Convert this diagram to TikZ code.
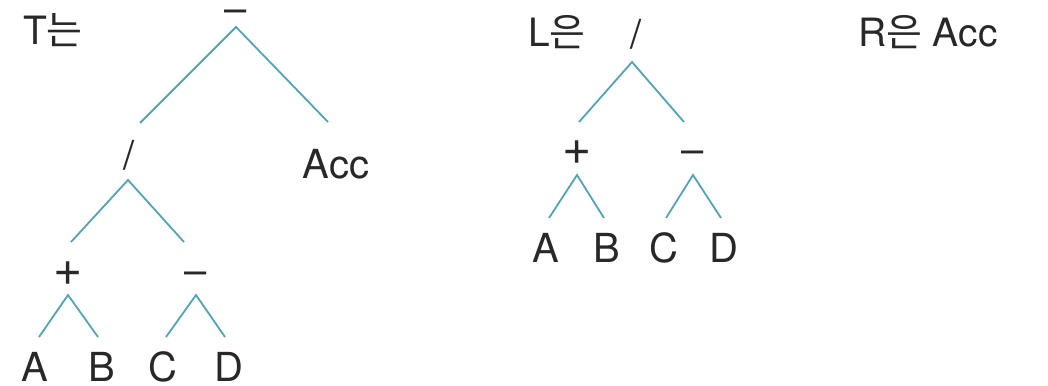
\documentclass[tikz,border=0pt]{standalone}
\usepackage{fontspec}
\setmainfont{TeX Gyre Heros}
\newfontfamily\krfont{Noto Sans CJK KR}
\definecolor{edgecol}{RGB}{84,163,181}
\definecolor{txtcol}{RGB}{40,40,40}
\tikzset{
  lbl/.style={anchor=base,inner sep=0pt,outer sep=0pt,text=txtcol,font=\fontsize{40}{40}\selectfont},
  plus/.style={lbl,font=\fontsize{50}{50}\selectfont},
  hdr/.style={anchor=base west,inner sep=0pt,outer sep=0pt,text=txtcol,font=\fontsize{39}{39}\selectfont},
  edge/.style={draw=edgecol,line width=1.8pt}
}
\begin{document}
\begin{tikzpicture}[x=1pt,y=-1pt]
\useasboundingbox[fill=white] (0,0) rectangle (1048,385);
% ---------- left tree ----------
\node[hdr] (Tlabel) at (23,45) {T\krfont 는};
\node[lbl] (Troot) at (236,23) {--};
\node[lbl] (Tdiv) at (129,169) {/};
\node[lbl] (Tacc) at (336,178) {Acc};
\node[plus] (Tplus) at (68,285) {+};
\node[lbl] (Tminus) at (196,284) {--};
\node[lbl] (TA) at (35,381) {A};
\node[lbl] (TB) at (102,381) {B};
\node[lbl] (TC) at (163,381) {C};
\node[lbl] (TD) at (229,381) {D};
\coordinate (Tr) at (236,27);
\coordinate (Trl) at (140,123);
\coordinate (Trr) at (328,122);
\coordinate (Td) at (128,180);
\coordinate (Tdl) at (71,242);
\coordinate (Tdr) at (184,242);
\coordinate (Tp) at (68,295);
\coordinate (Tpl) at (39,337);
\coordinate (Tpr) at (98,337);
\coordinate (Tm) at (196,295);
\coordinate (Tml) at (166,337);
\coordinate (Tmr) at (225,337);
\draw[edge] (Trl) -- (Tr) -- (Trr);
\draw[edge] (Tdl) -- (Td) -- (Tdr);
\draw[edge] (Tpl) -- (Tp) -- (Tpr);
\draw[edge] (Tml) -- (Tm) -- (Tmr);
% ---------- middle tree ----------
\node[hdr] (Llabel) at (528,47) {L\krfont 은};
\node[lbl] (Ldiv) at (636,49) {/};
\node[plus] (Lplus) at (577,164) {+};
\node[lbl] (Lminus) at (693,163) {--};
\node[lbl] (LA) at (546,262) {A};
\node[lbl] (LB) at (607,262) {B};
\node[lbl] (LC) at (664,262) {C};
\node[lbl] (LD) at (724,262) {D};
\coordinate (Ld) at (632,62);
\coordinate (Ldl) at (579,122);
\coordinate (Ldr) at (684,122);
\coordinate (Lp) at (577,175);
\coordinate (Lpl) at (549,218);
\coordinate (Lpr) at (604,218);
\coordinate (Lm) at (693,175);
\coordinate (Lml) at (666,218);
\coordinate (Lmr) at (721,218);
\draw[edge] (Ldl) -- (Ld) -- (Ldr);
\draw[edge] (Lpl) -- (Lp) -- (Lpr);
\draw[edge] (Lml) -- (Lm) -- (Lmr);
% ---------- right label ----------
\node[hdr] (Rlabel) at (858,47) {R{\krfont 은} Acc};
\end{tikzpicture}
\end{document}
